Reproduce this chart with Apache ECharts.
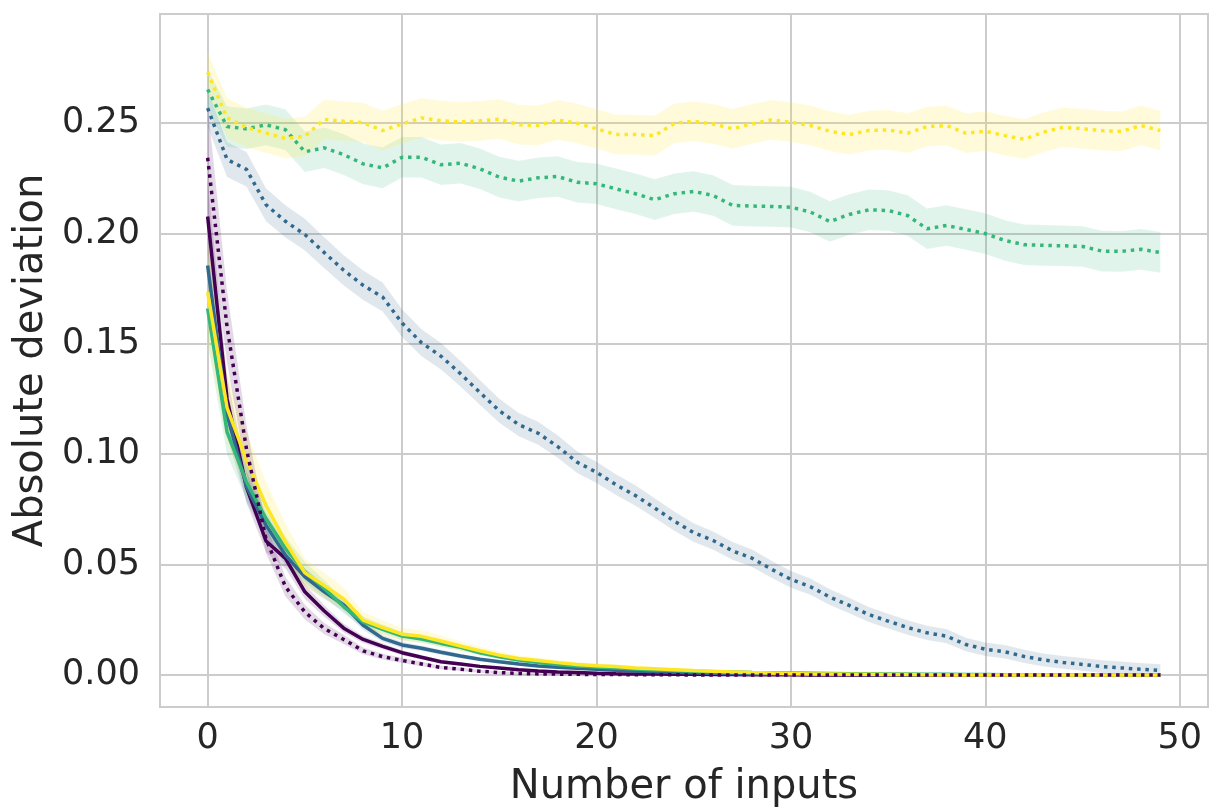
<!DOCTYPE html>
<html>
<head>
<meta charset="utf-8">
<script src="https://cdn.jsdelivr.net/npm/echarts@6/dist/echarts.min.js"></script>
<style>
html,body{margin:0;padding:0;background:#fff;}
#chart{width:1222px;height:808px;}
</style>
</head>
<body>
<div id="chart"></div>
<script>
// x positions: number of inputs
const inputs = [0,1,2,3,4,5,6,7,8,9,10,11,12,13,14,15,16,17,18,19,20,21,22,23,24,25,26,27,28,29,30,31,32,33,34,35,36,37,38,39,40,41,42,43,44,45,46,47,48,49];

// solid lines
const purpleSolid = [0.2077,0.125,0.085,0.0607,0.0528,0.0377,0.0290,0.0212,0.0161,0.0130,0.0101,0.0080,0.0060,0.0050,0.0039,0.0032,0.0024,0.0018,0.0014,0.0011,0.0008,0.0006,0.0005,0.0004,0.0003,0.0003,0.0002,0.0002,0.0001,0.0001,0.0001,0,0,0,0,0,0,0,0,0,0,0,0,0,0,0,0,0,0,0];
const blueSolid = [0.1855,0.118,0.0852,0.0679,0.0543,0.0445,0.0377,0.0317,0.0225,0.0166,0.0136,0.0121,0.0103,0.0086,0.0071,0.0060,0.0050,0.0041,0.0035,0.0030,0.0026,0.0021,0.0018,0.0015,0.0012,0.0010,0.0008,0.0007,0.0005,0.0004,0.0003,0.0003,0.0002,0.0002,0.0001,0.0001,0,0,0,0,0,0,0,0,0,0,0,0,0,0];
const greenSolid = [0.166,0.110,0.0874,0.0709,0.0573,0.0467,0.0392,0.0309,0.0240,0.0207,0.0176,0.0163,0.0143,0.0125,0.0101,0.0083,0.0068,0.0057,0.0048,0.0041,0.0036,0.0032,0.0027,0.0023,0.0020,0.0017,0.0015,0.0013,0.0011,0.0010,0.0009,0.0008,0.0007,0.0006,0.0006,0.0005,0.0004,0.0003,0.0003,0.0002,0.0002,0.0001,0.0001,0,0,0,0,0,0,0];
const yellowSolid = [0.1734,0.121,0.0973,0.0769,0.0603,0.0463,0.0405,0.0345,0.0249,0.0215,0.0185,0.0175,0.0154,0.0131,0.0110,0.0090,0.0075,0.0066,0.0056,0.0048,0.0042,0.0038,0.0032,0.0028,0.0024,0.0020,0.0017,0.0014,0.0011,0.0009,0.0007,0.0005,0.0004,0.0003,0.0003,0.0002,0.0002,0.0001,0,0,0,0,0,0,0,0,0,0,0,0];

// dotted lines
const purpleDot = [0.2343,0.1576,0.1022,0.0618,0.0400,0.0285,0.0210,0.0161,0.0109,0.0083,0.0066,0.0050,0.0034,0.0026,0.0017,0.0011,0.0007,0.0005,0.0004,0.0003,0.0002,0.0002,0.0001,0.0001,0.0001,0,0,0,0,0,0,0,0,0,0,0,0,0,0,0,0,0,0,0,0,0,0,0,0,0];
const blueDot = [0.2568,0.2335,0.2290,0.2130,0.2055,0.1995,0.1913,0.1833,0.1765,0.1712,0.1594,0.1505,0.1444,0.1365,0.1280,0.1197,0.1134,0.1095,0.1035,0.0964,0.0918,0.0862,0.0813,0.0756,0.0697,0.0645,0.0609,0.0562,0.0529,0.0479,0.0433,0.0400,0.0353,0.0315,0.0274,0.0244,0.0215,0.0191,0.0176,0.0138,0.0117,0.0105,0.0084,0.0068,0.0057,0.0048,0.0038,0.0032,0.0026,0.0020];
const greenDot = [0.2652,0.2484,0.2474,0.2492,0.2470,0.2370,0.2388,0.2357,0.2315,0.2297,0.2345,0.2345,0.2311,0.2318,0.2293,0.2255,0.2237,0.2252,0.2258,0.2232,0.2225,0.2202,0.2180,0.2153,0.2180,0.2190,0.2172,0.2127,0.2124,0.2122,0.2119,0.2097,0.2054,0.2086,0.2107,0.2104,0.2081,0.2021,0.2036,0.2018,0.1999,0.1968,0.1949,0.1946,0.1944,0.1941,0.1920,0.1919,0.1928,0.1914];
const yellowDot = [0.2730,0.2523,0.2480,0.2455,0.2430,0.2440,0.2517,0.2508,0.2502,0.2466,0.2496,0.2523,0.2511,0.2505,0.2510,0.2518,0.2493,0.2489,0.2514,0.2499,0.2474,0.2448,0.2448,0.2443,0.2499,0.2508,0.2496,0.2474,0.2496,0.2514,0.2504,0.2489,0.2463,0.2448,0.2466,0.2469,0.2454,0.2484,0.2489,0.2454,0.2463,0.2443,0.2427,0.2459,0.2481,0.2474,0.2466,0.2462,0.2489,0.2466];

// tick labels
const xTicks = [0,10,20,30,40,50];
const yTicks = [0.00,0.05,0.10,0.15,0.20,0.25];

const bands = [
  {name:'purpleSolid', data:purpleSolid, color:'#440154', abs:0.0003, rel:0.08, dotted:false, op:0.15},
  {name:'blueSolid',   data:blueSolid,   color:'#31688e', abs:0.0003, rel:0.08, dotted:false, op:0.15},
  {name:'greenSolid',  data:greenSolid,  color:'#35b779', abs:0.0003, rel:0.09, dotted:false, op:0.15},
  {name:'yellowSolid', data:yellowSolid, color:'#fde725', abs:0.0005, rel:0.13, dotted:false, op:0.17},
  {name:'purpleDot',   data:purpleDot,   color:'#440154', abs:0.0005, rel:0.10, dotted:true,  op:0.15},
  {name:'blueDot',     data:blueDot,     color:'#31688e', abs:0.0028, rel:0.022, dotted:true, op:0.15},
  {name:'greenDot',    data:greenDot,    color:'#35b779', abs:0.0092, rel:0.0, dotted:true,   op:0.15},
  {name:'yellowDot',   data:yellowDot,   color:'#fde725', abs:0.0090, rel:0.0, dotted:true,   op:0.17}
];

const series = [];
bands.forEach((b) => {
  const rows = b.data.map((v, i) => [inputs[i], v - (b.abs + b.rel * v), v + (b.abs + b.rel * v)]);
  series.push({
    type:'custom', silent:true, z:1,
    data: rows,
    encode:{x:0, y:[1,2]},
    renderItem:(params, api) => {
      if (params.dataIndex !== 0) return null;
      const pts = [];
      for (let i = 0; i < rows.length; i++) pts.push(api.coord([rows[i][0], rows[i][2]]));
      for (let i = rows.length - 1; i >= 0; i--) pts.push(api.coord([rows[i][0], rows[i][1]]));
      return {
        type:'polygon',
        shape:{points:pts},
        style:{fill:b.color, opacity:b.op, stroke:'rgba(255,255,255,0.6)', lineWidth:0.8}
      };
    }
  });
});
bands.forEach((b) => {
  series.push({
    type:'line', name:b.name, data:b.data.map((v, i) => [inputs[i], v]), symbol:'none', silent:true,
    lineStyle:{color:b.color, width:3.5, type: b.dotted ? [3.5,4.8] : 'solid', cap:'butt'},
    z: 3
  });
});

const textColor = '#262626';
const font = 'DejaVu Sans';
const chart = echarts.init(document.getElementById('chart'), null, {renderer:'canvas'});
chart.setOption({
  animation:false,
  backgroundColor:'#ffffff',
  grid:{left:160, right:14, top:14, bottom:101, show:true, borderColor:'#cccccc', borderWidth:2,
        containLabel:false, outerBoundsMode:'none'},
  xAxis:{
    type:'value', min:-2.45, max:51.45,
    name:'Number of inputs', nameLocation:'middle', nameGap:61,
    nameTextStyle:{fontSize:40, color:textColor, fontFamily:font},
    axisLine:{show:false}, axisTick:{show:false},
    axisLabel:{
      fontSize:35, color:textColor, fontFamily:font, margin:14,
      customValues: xTicks,
      formatter:(v)=>String(Math.round(v))
    },
    splitLine:{show:true, lineStyle:{color:'#cccccc', width:2}}
  },
  yAxis:{
    type:'value', min:-0.0145, max:0.2994,
    name:'Absolute deviation', nameLocation:'middle', nameGap:108,
    nameTextStyle:{fontSize:40, color:textColor, fontFamily:font},
    axisLine:{show:false}, axisTick:{show:false},
    axisLabel:{
      fontSize:35, color:textColor, fontFamily:font, margin:20,
      customValues: yTicks,
      formatter:(v)=>v.toFixed(2)
    },
    splitLine:{show:true, lineStyle:{color:'#cccccc', width:2}}
  },
  series: series
});
</script>
</body>
</html>
